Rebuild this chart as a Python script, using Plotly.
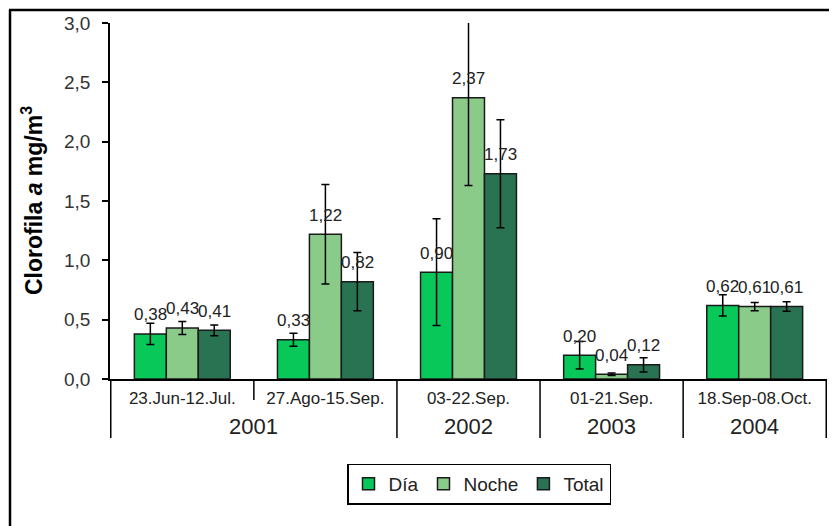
import plotly.graph_objects as go

# ---- data ----
periods = ["23.Jun-12.Jul.", "27.Ago-15.Sep.", "03-22.Sep.", "01-21.Sep.", "18.Sep-08.Oct."]
years = ["2001", "2002", "2003", "2004"]
year_span = [(0, 1), (2, 2), (3, 3), (4, 4)]  # first/last period index per year

dia = [0.38, 0.33, 0.90, 0.20, 0.62]
noche = [0.43, 1.22, 2.37, 0.04, 0.61]
total = [0.41, 0.82, 1.73, 0.12, 0.61]

dia_err = [0.09, 0.055, 0.45, 0.115, 0.09]
noche_err = [0.055, 0.42, 0.74, 0.01, 0.035]
total_err = [0.045, 0.245, 0.455, 0.06, 0.04]

series = [
    ("Día", dia, dia_err, "#08c85a"),
    ("Noche", noche, noche_err, "#8acb8a"),
    ("Total", total, total_err, "#2a7352"),
]

# ---- layout geometry (screen pixels; page body has an 8px margin) ----
W, H = 837, 526
OFF = 8
L, R = 110, 827
T, B = 23, 379
pw, ph = R - L, B - T
FW, FH = W - OFF, H - OFF

def px_x(p):
    return (p - L) / pw

def px_y(p):
    return (B - p) / ph

FONT = "Liberation Sans, Arial, sans-serif"
fig = go.Figure()
offsets = [-32, 0, 32]
text_font = dict(family=FONT, size=17, color="#222222")

for (name, vals, errs, col), off in zip(series, offsets):
    fig.add_trace(go.Bar(
        x=periods, y=vals, name=name,
        marker=dict(color=col, line=dict(color="#1a1a1a", width=1.5)),
        error_y=dict(type="data", array=errs, visible=True, color="black", thickness=1.5, width=4),
    ))
    for p, v in zip(periods, vals):
        fig.add_annotation(
            x=p, y=v, xref="x", yref="y",
            text=f"{v:.2f}".replace(".", ","),
            showarrow=False, xshift=off, yshift=19, yanchor="middle",
            font=text_font,
        )

shapes = []
boundaries = [-0.5] + [s[1] + 0.5 for s in year_span]
for b in boundaries:
    shapes.append(dict(type="line", xref="x", yref="paper", x0=b, x1=b,
                       y0=0, y1=px_y(438), line=dict(color="black", width=1.5)))
for s in year_span:
    for k in range(s[0], s[1]):
        shapes.append(dict(type="line", xref="x", yref="paper", x0=k + 0.5, x1=k + 0.5,
                           y0=0, y1=px_y(400), line=dict(color="black", width=1.5)))
# outer frame (top and left edges visible)
shapes.append(dict(type="line", xref="paper", yref="paper", x0=px_x(9), x1=px_x(W + 20),
                   y0=px_y(10), y1=px_y(10), line=dict(color="black", width=2.5)))
shapes.append(dict(type="line", xref="paper", yref="paper", x0=px_x(10), x1=px_x(10),
                   y0=px_y(10), y1=px_y(H + 20), line=dict(color="black", width=2.5)))

for yname, (a, b) in zip(years, year_span):
    fig.add_annotation(x=(a + b) / 2, y=px_y(426), xref="x", yref="paper",
                       text=yname, showarrow=False, yanchor="middle",
                       font=dict(family=FONT, size=22, color="#222222"))

fig.add_annotation(x=px_x(32), y=px_y(201), xref="paper", yref="paper", textangle=-90,
                   text="<b>Clorofila <i>a</i> mg/m<sup>3</sup></b>", showarrow=False,
                   xanchor="center", yanchor="middle",
                   font=dict(family=FONT, size=23, color="black"))

fig.update_layout(
    width=FW, height=FH,
    margin=dict(l=L - OFF, r=FW - (R - OFF), t=T - OFF, b=FH - (B - OFF), pad=0, autoexpand=False),
    paper_bgcolor="white", plot_bgcolor="white",
    separators=",.",
    barmode="group", bargap=0.33, bargroupgap=0,
    shapes=shapes,
    showlegend=True,
    legend=dict(orientation="h", x=px_x(479), y=px_y(484), xanchor="center", yanchor="middle",
                bordercolor="black", borderwidth=1.5, bgcolor="white",
                font=dict(family=FONT, size=19, color="#222222"),
                itemwidth=30, tracegroupgap=0),
    xaxis=dict(type="category", showline=True, linecolor="black", linewidth=1.5,
               ticks="", showgrid=False, zeroline=False, automargin=False,
               tickfont=dict(family=FONT, size=17, color="#222222"),
               ticklabelstandoff=3),
    yaxis=dict(range=[0, 3], dtick=0.5, tickformat=".1f", showline=True, linecolor="black",
               linewidth=1.5, ticks="outside", ticklen=6, tickwidth=1.5, tickcolor="black",
               showgrid=False, zeroline=False, ticklabelstandoff=8, automargin=False,
               tickfont=dict(family=FONT, size=19, color="#333333")),
)

fig.write_html("out.html")
